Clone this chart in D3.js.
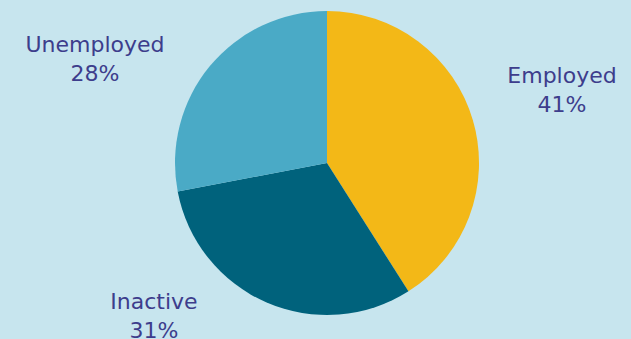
<!DOCTYPE html>
<html lang="en">
<head>
    <meta charset="utf-8">
    <title>Pie</title>
    <script type="text/javascript" src="https://d3js.org/d3.v7.min.js"></script>
    <style>
        body { margin: 0; background: #c7e5ee; }
        text { font-family: "DejaVu Sans", Verdana, sans-serif; }
    </style>
</head>
<body>
    <div id="pie-chart"></div>
    <script type="text/javascript">
        const categories = ["Employed", "Inactive", "Unemployed"];
        const values = [41, 31, 28];
        const colors = ["#f3b817", "#00627c", "#4aaac6"];

        const width = 631;
        const height = 339;
        const cx = 327, cy = 163, radius = 152;

        // label anchor points (centre of the two-line label block, first baseline)
        const labelPos = {
            "Employed": [562, 83],
            "Inactive": [154, 309],
            "Unemployed": [95, 52]
        };

        const svg = d3.select("#pie-chart")
            .append("svg")
            .attr("width", width)
            .attr("height", height);

        svg.append("rect")
            .attr("width", width)
            .attr("height", height)
            .attr("fill", "#c7e5ee");

        const dataset = categories.map((c, i) => ({name: c, value: values[i], color: colors[i]}));

        const pie = d3.pie().sort(null).value(d => d.value);
        const arc = d3.arc().innerRadius(0).outerRadius(radius);

        svg.append("g")
            .attr("transform", `translate(${cx}, ${cy})`)
            .selectAll("path")
            .data(pie(dataset))
            .enter()
            .append("path")
                .attr("d", arc)
                .attr("fill", d => d.data.color);

        const labels = svg.append("g")
            .selectAll("text")
            .data(dataset)
            .enter()
            .append("text")
                .attr("text-anchor", "middle")
                .attr("fill", "#3d3d8c")
                .attr("font-size", "22px");

        labels.append("tspan")
            .attr("x", d => labelPos[d.name][0])
            .attr("y", d => labelPos[d.name][1])
            .text(d => d.name);

        labels.append("tspan")
            .attr("x", d => labelPos[d.name][0])
            .attr("y", d => labelPos[d.name][1] + 29)
            .text(d => d.value + "%");
    </script>
</body>
</html>
